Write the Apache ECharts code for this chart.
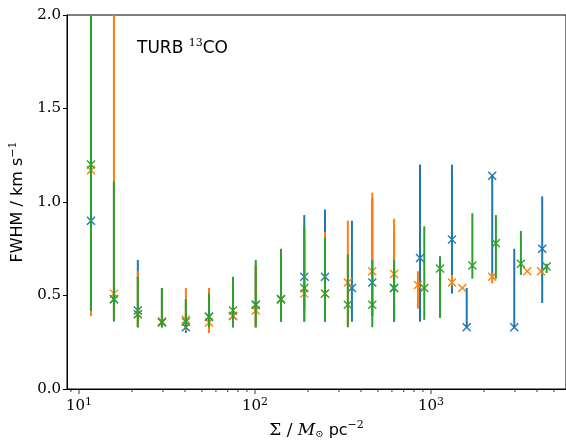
<!DOCTYPE html>
<html><head><meta charset="utf-8">
<script src="https://cdn.jsdelivr.net/npm/echarts@6/dist/echarts.min.js"></script>
<style>html,body{margin:0;padding:0;background:#fff}#c{width:566px;height:440px}</style>
</head><body><div id="c"></div>
<script>
// ---- data ----
const blueX  = [11.7, 15.8, 21.6, 29.6, 40.5, 54.8, 75, 101, 140.6, 190.6, 250, 355.6, 464, 617, 866, 1316, 1596, 2228, 2972, 4285];
const blueY  = [0.90, 0.48, 0.42, 0.36, 0.33, 0.387, 0.39, 0.45, 0.48, 0.60, 0.60, 0.54, 0.57, 0.54, 0.70, 0.80, 0.33, 1.14, 0.33, 0.75];
const blueLo = [0.42, 0.37, 0.33, 0.33, 0.30, 0.32, 0.33, 0.33, 0.36, 0.42, 0.36, 0.36, 0.39, 0.36, 0.36, 0.51, 0.33, 0.60, 0.33, 0.46];
const blueHi = [2.50, 1.10, 0.69, 0.54, 0.48, 0.50, 0.54, 0.66, 0.72, 0.93, 0.96, 0.90, 1.02, 0.84, 1.20, 1.20, 0.54, 1.14, 0.75, 1.03];

const orangeX  = [11.7, 15.8, 21.6, 29.6, 40.5, 54.8, 75, 101, 140.6, 190.6, 250, 337, 464, 617, 843, 1316, 1507, 2228, 3525, 4217];
const orangeY  = [1.17, 0.51, 0.40, 0.36, 0.37, 0.355, 0.39, 0.42, 0.48, 0.51, 0.51, 0.57, 0.63, 0.615, 0.556, 0.57, 0.54, 0.60, 0.63, 0.63];
const orangeLo = [0.39, 0.37, 0.33, 0.33, 0.31, 0.30, 0.33, 0.33, 0.36, 0.36, 0.36, 0.34, 0.39, 0.39, 0.43, 0.55, 0.54, 0.565, 0.63, 0.63];
const orangeHi = [2.50, 2.50, 0.63, 0.52, 0.54, 0.54, 0.55, 0.66, 0.70, 0.81, 0.84, 0.90, 1.05, 0.91, 0.63, 0.61, 0.54, 0.62, 0.63, 0.63];

const greenX  = [11.7, 15.8, 21.6, 29.6, 40.5, 54.8, 75, 101, 140.6, 190.6, 250, 337, 464, 617, 916, 1125, 1718, 2338, 3243, 4540];
const greenY  = [1.20, 0.48, 0.40, 0.355, 0.36, 0.387, 0.42, 0.45, 0.48, 0.54, 0.51, 0.45, 0.45, 0.54, 0.54, 0.645, 0.66, 0.78, 0.67, 0.655];
const greenLo = [0.417, 0.36, 0.33, 0.33, 0.32, 0.33, 0.33, 0.33, 0.36, 0.36, 0.36, 0.33, 0.33, 0.36, 0.37, 0.38, 0.59, 0.59, 0.61, 0.62];
const greenHi = [2.50, 1.11, 0.60, 0.54, 0.48, 0.51, 0.60, 0.69, 0.75, 0.87, 0.81, 0.72, 0.69, 0.69, 0.87, 0.71, 0.94, 0.93, 0.845, 0.67];

const majorTicks = [10, 100, 1000];
const minorTicks = [9, 20, 30, 40, 50, 60, 70, 80, 90, 200, 300, 400, 500, 600, 700, 800, 900, 2000, 3000, 4000, 5000];

// ---- chart ----
const chart = echarts.init(document.getElementById('c'), null, {renderer: 'canvas'});
const SERIF = 'DejaVu Serif';
const SANS = 'DejaVu Sans';

function errSeries(name, color, xs, ys, lo, hi) {
  return {
    type: 'custom', name: name, clip: true,
    encode: {x: 0, y: 1},
    data: xs.map((x, i) => [x, ys[i], lo[i], hi[i]]),
    renderItem: function (params, api) {
      const x = api.value(0), y = api.value(1), l = api.value(2), h = api.value(3);
      const p = api.coord([x, y]), a = api.coord([x, l]), b = api.coord([x, h]);
      const s = 4;
      return {type: 'group', children: [
        {type: 'line', shape: {x1: a[0], y1: a[1], x2: b[0], y2: b[1]}, style: {stroke: color, lineWidth: 2}},
        {type: 'line', shape: {x1: p[0] - s, y1: p[1] - s, x2: p[0] + s, y2: p[1] + s}, style: {stroke: color, lineWidth: 1.4}},
        {type: 'line', shape: {x1: p[0] - s, y1: p[1] + s, x2: p[0] + s, y2: p[1] - s}, style: {stroke: color, lineWidth: 1.4}}
      ]};
    }
  };
}

function tickSeries(vals, len) {
  return {
    type: 'custom', clip: false, silent: true,
    encode: {x: 0, y: 1},
    data: vals.map(v => [v, 0]),
    renderItem: function (params, api) {
      const p = api.coord([api.value(0), 0]);
      return {type: 'line', shape: {x1: p[0], y1: p[1], x2: p[0], y2: p[1] + len}, style: {stroke: '#000', lineWidth: 0.8}};
    }
  };
}

chart.setOption({
  animation: false,
  backgroundColor: '#fff',
  grid: {left: 67, right: 0, top: 15, bottom: 51, show: true, borderColor: '#000', borderWidth: 1,
         containLabel: false, outerBoundsMode: 'none'},
  title: {
    left: 132, top: 33,
    text: '{a|TURB }{s|13}{a|CO}',
    textStyle: {fontWeight: 'normal', rich: {
      a: {fontFamily: SANS, fontSize: 17, color: '#000', fontWeight: 'normal'},
      s: {fontFamily: SERIF, fontSize: 11, color: '#000', fontWeight: 'normal', padding: [0, 0, 10, 0]}
    }}
  },
  xAxis: {
    type: 'log', logBase: 10, min: 8.55, max: 5850,
    axisLine: {show: true, lineStyle: {color: '#000', width: 1}},
    axisTick: {show: false},
    splitLine: {show: false},
    minorTick: {show: false},
    axisLabel: {
      margin: 8, showMinLabel: false, showMaxLabel: false,
      formatter: function (v) {
        const e = Math.log10(v);
        if (Math.abs(e - Math.round(e)) > 1e-6) return '';
        return '{b|10}{s|' + Math.round(e) + '}';
      },
      rich: {
        b: {fontFamily: SERIF, fontSize: 15, color: '#000'},
        s: {fontFamily: SERIF, fontSize: 11, color: '#000', padding: [0, 0, 8, 0]}
      }
    },
    name: '{g|Σ / }{m|M}{o|⊙}{p| pc}{e|−2}',
    nameLocation: 'middle', nameGap: 31,
    nameTextStyle: {rich: {
      g: {fontFamily: SERIF, fontSize: 17, color: '#000'},
      m: {fontFamily: SERIF, fontStyle: 'italic', fontSize: 17, color: '#000'},
      o: {fontFamily: SERIF, fontSize: 10, color: '#000', padding: [8, 0, 0, 0]},
      p: {fontFamily: SANS, fontSize: 16, color: '#000'},
      e: {fontFamily: SERIF, fontSize: 11, color: '#000', padding: [0, 0, 10, 0]}
    }}
  },
  yAxis: {
    type: 'value', min: 0, max: 2, interval: 0.5,
    axisLine: {show: true, lineStyle: {color: '#000', width: 1}},
    axisTick: {show: true, inside: false, length: 4, lineStyle: {color: '#000'}},
    splitLine: {show: false},
    axisLabel: {
      margin: 6,
      formatter: v => v.toFixed(1),
      fontFamily: SERIF, fontSize: 15, color: '#000'
    },
    name: '{a|FWHM / km s}{s|−1}',
    nameLocation: 'middle', nameGap: 38, nameRotate: 90,
    nameTextStyle: {rich: {
      a: {fontFamily: SANS, fontSize: 16, color: '#000'},
      s: {fontFamily: SERIF, fontSize: 11, color: '#000', padding: [0, 0, 10, 0]}
    }}
  },
  series: [
    tickSeries(majorTicks, 5),
    tickSeries(minorTicks, 3),
    errSeries('blue', '#1f77b4', blueX, blueY, blueLo, blueHi),
    errSeries('orange', '#ff7f0e', orangeX, orangeY, orangeLo, orangeHi),
    errSeries('green', '#2ca02c', greenX, greenY, greenLo, greenHi)
  ]
});
</script>
</body></html>
